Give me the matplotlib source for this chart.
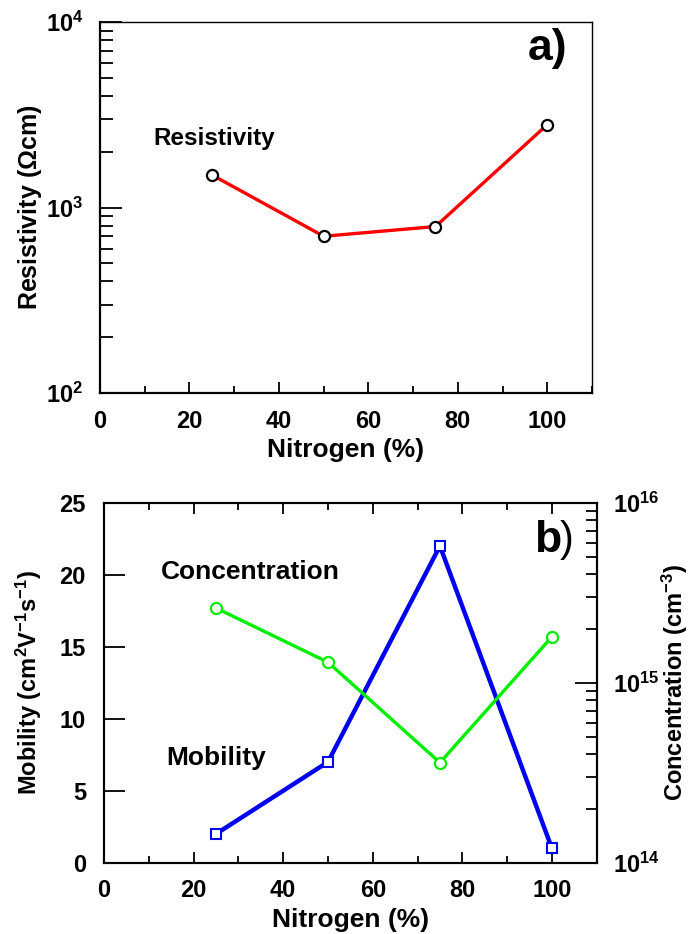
import math
import matplotlib
matplotlib.use('Agg')
import matplotlib.pyplot as plt
from matplotlib.ticker import LogLocator, FixedLocator, NullFormatter, FuncFormatter

plt.rcParams['font.family'] = ['Liberation Sans', 'DejaVu Sans']
plt.rcParams['font.weight'] = 'bold'
plt.rcParams['mathtext.fontset'] = 'custom'
plt.rcParams['mathtext.rm'] = 'Liberation Sans:bold'
plt.rcParams['mathtext.bf'] = 'Liberation Sans:bold'
plt.rcParams['mathtext.it'] = 'Liberation Sans:bold:italic'

# data
nitrogen = [25, 50, 75, 100]
resistivity = [1500, 700, 790, 2800]
mobility = [2, 7, 22, 1]
concentration = [2.6e15, 1.3e15, 3.6e14, 1.8e15]

x_major = [0, 20, 40, 60, 80, 100]
x_minor = [10, 30, 50, 70, 90, 110]


def pow10(v, pos):
    e = int(round(math.log10(v)))
    return r'10$^{%d}$' % e


def style_x(ax, label_y, top=False):
    ax.set_xlim(0, 110)
    ax.xaxis.set_major_locator(FixedLocator(x_major))
    ax.xaxis.set_minor_locator(FixedLocator(x_minor))
    ax.tick_params(axis='x', which='major', direction='in', length=8, width=1.3,
                   labelsize=17, pad=12, top=top)
    ax.tick_params(axis='x', which='minor', direction='in', length=5, width=1.3, top=top)
    ax.set_xlabel('Nitrogen (%)', fontsize=19, fontweight='bold')
    ax.xaxis.set_label_coords(0.5, label_y)
    ax.xaxis.label.set_va('center')


fig = plt.figure(figsize=(6.94, 9.34), dpi=100)

# ---------- panel a ----------
ax1 = fig.add_axes([0.1441, 0.5792, 0.709, 0.3972])
ax1.plot(nitrogen, resistivity, color='red', lw=2.4, marker='o', ms=8,
         mfc='white', mec='black', mew=1.6, zorder=3)
ax1.set_yscale('log')
ax1.set_ylim(1e2, 1e4)
ax1.yaxis.set_major_locator(LogLocator(base=10, numticks=5))
ax1.yaxis.set_minor_locator(LogLocator(base=10, subs=range(2, 10), numticks=10))
ax1.yaxis.set_major_formatter(FuncFormatter(pow10))
ax1.yaxis.set_minor_formatter(NullFormatter())
ax1.tick_params(axis='y', which='major', direction='in', length=16, width=1.3, labelsize=17, pad=12)
ax1.tick_params(axis='y', which='minor', direction='in', length=9, width=1.3)
style_x(ax1, -0.154)
ax1.set_ylabel(r'Resistivity ($\Omega$cm)', fontsize=18, fontweight='bold')
ax1.yaxis.set_label_coords(-0.142, 0.5)
ax1.yaxis.label.set_va('center')
for s in ['left', 'bottom']:
    ax1.spines[s].set_linewidth(1.6)
for s in ['top', 'right']:
    ax1.spines[s].set_linewidth(1.0)
ax1.text(11.9, 2370, 'Resistivity', fontsize=17.5, fontweight='bold', va='center', ha='left')
ax1.text(0.87, 0.93, 'a)', transform=ax1.transAxes, fontsize=32, fontweight='bold',
         va='center', ha='left')

# ---------- panel b ----------
ax2 = fig.add_axes([0.1499, 0.0763, 0.7099, 0.3854])
ax3 = ax2.twinx()
ax2.plot(nitrogen, mobility, color='#0000ee', lw=3.2, marker='s', ms=7,
         mfc='white', mec='#0000ee', mew=1.5, zorder=3)
ax3.plot(nitrogen, concentration, color='#00ee00', lw=2.4, marker='o', ms=8,
         mfc='white', mec='#00ee00', mew=1.6, zorder=3)
ax2.set_ylim(0, 25)
ax2.yaxis.set_major_locator(FixedLocator([0, 5, 10, 15, 20, 25]))
ax2.tick_params(axis='y', which='major', direction='in', length=15, width=1.3, labelsize=17, pad=13)
style_x(ax2, -0.159, top=True)
ax2.set_ylabel(r'Mobility (cm$^{2}$V$^{-1}$s$^{-1}$)', fontsize=17, fontweight='bold')
ax2.yaxis.set_label_coords(-0.152, 0.5)
ax2.yaxis.label.set_va('center')

ax3.set_yscale('log')
ax3.set_ylim(1e14, 1e16)
ax3.yaxis.set_major_locator(LogLocator(base=10, numticks=5))
ax3.yaxis.set_minor_locator(LogLocator(base=10, subs=range(2, 10), numticks=10))
ax3.yaxis.set_major_formatter(FuncFormatter(pow10))
ax3.yaxis.set_minor_formatter(NullFormatter())
ax3.tick_params(axis='y', which='major', direction='in', length=16, width=1.3, labelsize=17, pad=12)
ax3.tick_params(axis='y', which='minor', direction='in', length=8, width=1.3)
ax3.set_ylabel(r'Concentration (cm$^{-3}$)', fontsize=17, fontweight='bold')
ax3.yaxis.set_label_coords(1.158, 0.5)
ax3.yaxis.label.set_va('center')
for s in ['left', 'bottom', 'right', 'top']:
    ax2.spines[s].set_linewidth(1.5)
    ax3.spines[s].set_linewidth(1.5)

ax2.text(12.75, 20.2, 'Concentration', fontsize=19, fontweight='bold', va='center', ha='left')
ax2.text(14.0, 7.3, 'Mobility', fontsize=19, fontweight='bold', va='center', ha='left')
ax2.text(0.872, 0.896, 'b', transform=ax2.transAxes, fontsize=32, fontweight='bold',
         va='center', ha='left')
ax2.text(0.925, 0.896, ')', transform=ax2.transAxes, fontsize=30, fontweight='normal',
         va='center', ha='left')

fig.savefig('out.png', dpi=100)
